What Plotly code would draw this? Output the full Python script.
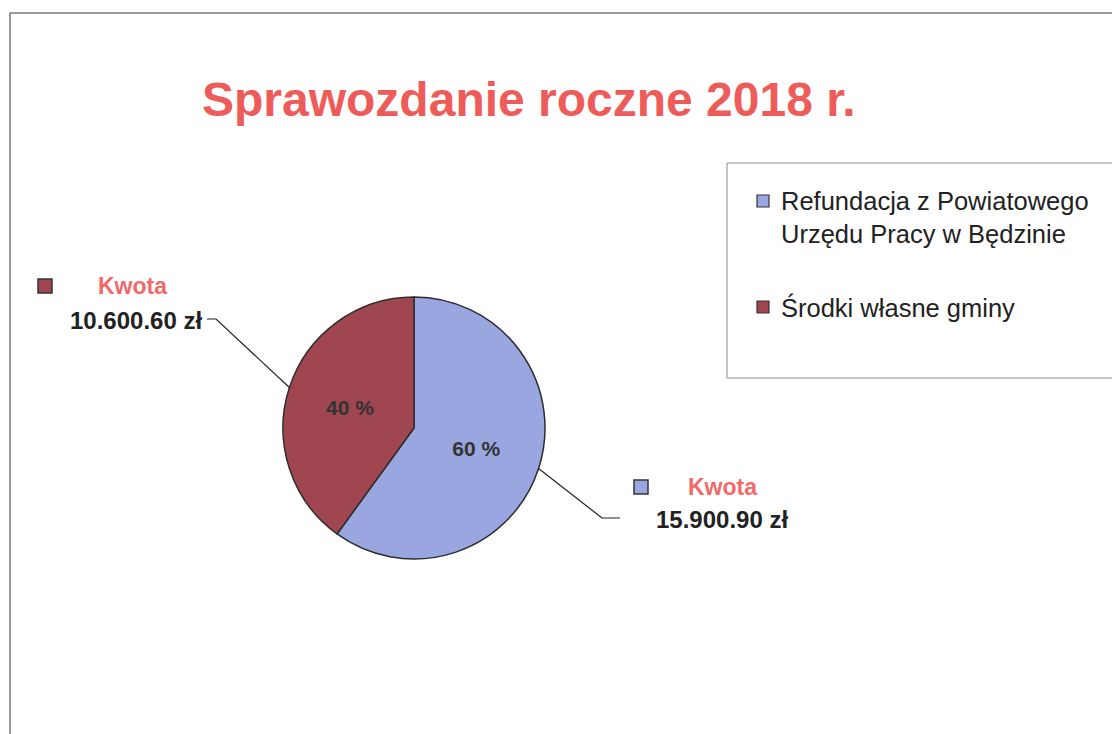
import math
import plotly.graph_objects as go

# ---- data ----
labels = ["Refundacja z Powiatowego Urzędu Pracy w Będzinie", "Środki własne gminy"]
legend_lines = [["Refundacja z Powiatowego", "Urzędu Pracy w Będzinie"], ["Środki własne gminy"]]
values = [15900.90, 10600.60]
value_texts = ["15.900.90 zł", "10.600.60 zł"]
callout_title = "Kwota"
title_text = "Sprawozdanie roczne 2018 r."

# ---- style ----
W, H = 1120, 734
OFF = 8  # page body margin compensation
colors = ["#9aa6e0", "#9f4650"]
title_color = "#ee5c5a"
kwota_color = "#f06a6a"
FONT = "Liberation Sans, Arial, sans-serif"

cx, cy, R = 414, 428, 131  # pie centre / radius in px (screen)


def px(x):
    return (x - OFF) / W


def py(y):
    return 1 - (y - OFF) / H


total = sum(values)
pct_text = [f"<b>{round(v / total * 100):d} %</b>" for v in values]

fig = go.Figure()
fig.add_trace(go.Pie(
    labels=labels,
    values=values,
    sort=False,
    direction="clockwise",
    rotation=0,
    marker=dict(colors=colors, line=dict(color="#2e2e2e", width=1.5)),
    text=pct_text,
    textinfo="text",
    textposition="inside",
    insidetextorientation="horizontal",
    textfont=dict(family=FONT, size=21, color="#333333"),
    domain=dict(x=[px(cx - R), px(cx + R)], y=[py(cy + R), py(cy - R)]),
    showlegend=False,
    hoverinfo="label+value+percent",
))

shapes = []
annotations = []

# frame
shapes.append(dict(type="path", xref="paper", yref="paper",
                   path=f"M {px(10)} {py(750)} L {px(10)} {py(13)} L {px(1135)} {py(13)}",
                   line=dict(color="#7a7a7a", width=1.5)))

# title
annotations.append(dict(text=f"<b>{title_text}</b>", x=px(529), y=py(99), xref="paper", yref="paper",
                        showarrow=False, xanchor="center", yanchor="middle",
                        font=dict(family=FONT, size=48, color=title_color)))

# legend box (manual)
shapes.append(dict(type="rect", xref="paper", yref="paper",
                   x0=px(727), x1=px(1113), y0=py(378), y1=py(163),
                   line=dict(color="#8a8a8a", width=1), fillcolor="white"))
leg_y = [201, 307]
for i, lines in enumerate(legend_lines):
    y0 = leg_y[i]
    shapes.append(dict(type="rect", xref="paper", yref="paper",
                       x0=px(757), x1=px(769), y0=py(y0 + 6), y1=py(y0 - 6),
                       line=dict(color="#333333", width=1.2), fillcolor=colors[i]))
    for j, ln in enumerate(lines):
        annotations.append(dict(text=ln, x=px(779), y=py(y0 + j * 33), xref="paper", yref="paper",
                                showarrow=False, xanchor="left", yanchor="middle",
                                font=dict(family=FONT, size=25.5, color="#222222")))

# callout labels with leader lines, edge points computed from slice mid-angles
callouts = [
    dict(mx=641, ky=487, kx=722, vx=722, vy=519, vanchor="center", ex=602, endx=620),
    dict(mx=45, ky=286, kx=132, vx=204, vy=320, vanchor="right", ex=216, endx=207),
]
cum = 0.0
for i, v in enumerate(values):
    frac = v / total
    mid = (cum + frac / 2) * 2 * math.pi
    cum += frac
    exx = cx + R * math.sin(mid)
    eyy = cy - R * math.cos(mid)
    c = callouts[i]
    shapes.append(dict(type="path", xref="paper", yref="paper",
                       path=f"M {px(exx)} {py(eyy)} L {px(c['ex'])} {py(c['vy'] - 1)} L {px(c['endx'])} {py(c['vy'] - 1)}",
                       line=dict(color="#222222", width=1.2)))
    shapes.append(dict(type="rect", xref="paper", yref="paper",
                       x0=px(c["mx"] - 7), x1=px(c["mx"] + 7), y0=py(c["ky"] + 7), y1=py(c["ky"] - 7),
                       line=dict(color="#333333", width=1.5), fillcolor=colors[i]))
    annotations.append(dict(text=f"<b>{callout_title}</b>", x=px(c["kx"]), y=py(c["ky"]),
                            xref="paper", yref="paper", showarrow=False,
                            xanchor="center", yanchor="middle",
                            font=dict(family=FONT, size=23, color=kwota_color)))
    annotations.append(dict(text=f"<b>{value_texts[i]}</b>", x=px(c["vx"]), y=py(c["vy"]),
                            xref="paper", yref="paper", showarrow=False,
                            xanchor=c["vanchor"], yanchor="middle",
                            font=dict(family=FONT, size=24, color="#222222")))

fig.update_layout(
    width=W, height=H,
    margin=dict(l=0, r=0, t=0, b=0),
    paper_bgcolor="white",
    plot_bgcolor="white",
    shapes=shapes,
    annotations=annotations,
    showlegend=False,
)

fig.write_html("out.html")
